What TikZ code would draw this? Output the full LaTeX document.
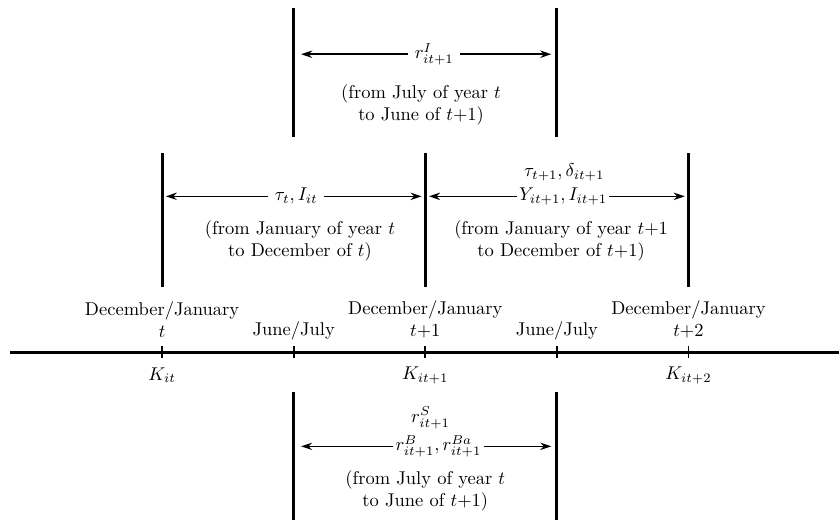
\documentclass[tikz,border=0pt]{standalone}
\usepackage{tikz}
\usetikzlibrary{arrows.meta, positioning, calc}
\usepackage{amsmath, amssymb}

\begin{document}
\begin{tikzpicture}[
  bar/.style={line width=1.6pt},
  span/.style={line width=0.8pt, -{Stealth[length=6pt, width=4pt]}},
  note/.style={align=center, inner sep=2pt},
  tight/.style={inner sep=1pt},
]
  \useasboundingbox (-3.08,-3.19) rectangle (12.86,6.69);

  % Time axis with ticks
  \coordinate (axL) at (-2.89,0);
  \coordinate (axR) at (12.86,0);
  \draw[line width=1.6pt] (axL) -- (axR);
  \foreach \x/\n in {0/d0, 2.5/j0, 5/d1, 7.5/j1, 10/d2} {
    \coordinate (\n) at (\x,0);
    \draw[line width=1pt] ([yshift=-0.11cm]\n) -- ([yshift=0.11cm]\n);
  }

  % Dates above the axis
  \node[note] (dec0) at (0,0.62) {December/January\\$t$};
  \node[note] (dec1) at (5,0.62) {December/January\\$t{+}1$};
  \node[note] (dec2) at (10,0.62) {December/January\\$t{+}2$};
  \node (jun0) at (2.5,0.40) {June/July};
  \node (jun1) at (7.5,0.40) {June/July};

  % Capital below the axis
  \node (k0) at (0,-0.44) {$K_{it}$};
  \node (k1) at (5,-0.44) {$K_{it+1}$};
  \node (k2) at (10,-0.44) {$K_{it+2}$};

  % Top span: July t to June t+1
  \coordinate (topL1) at (2.5,6.54);
  \coordinate (topL2) at (2.5,4.09);
  \coordinate (topR1) at (7.5,6.54);
  \coordinate (topR2) at (7.5,4.09);
  \draw[bar] (topL1) -- (topL2);
  \draw[bar] (topR1) -- (topR2);
  \node (rI) at (5.17,5.66) {$r^{I}_{it+1}$};
  \draw[span, shorten >=4pt] (rI) -- (rI -| topL1);
  \draw[span, shorten >=3pt] (rI) -- (rI -| topR1);
  \node[note] (topTxt) at (4.92,4.70) {(from July of year $t$\\to June of $t{+}1$)};

  % Middle spans: calendar years t and t+1
  \coordinate (midA1) at (0,3.78);
  \coordinate (midA2) at (0,1.24);
  \coordinate (midB1) at (5,3.78);
  \coordinate (midB2) at (5,1.24);
  \coordinate (midC1) at (10,3.78);
  \coordinate (midC2) at (10,1.24);
  \draw[bar] (midA1) -- (midA2);
  \draw[bar] (midB1) -- (midB2);
  \draw[bar] (midC1) -- (midC2);
  \node (tau0) at (2.55,2.96) {$\tau_t, I_{it}$};
  \draw[span, shorten >=2pt] (tau0) -- (tau0 -| midA1);
  \draw[span, shorten >=2pt] (tau0) -- (tau0 -| midB1);
  \node[note] (midTxtA) at (2.62,2.11) {(from January of year $t$\\to December of $t$)};
  \node[tight] (y1) at (7.62,2.96) {$Y_{it+1}, I_{it+1}$};
  \node[tight] (tau1) at (7.64,3.42) {$\tau_{t+1}, \delta_{it+1}$};
  \draw[span, shorten >=2pt] (y1) -- (y1 -| midB1);
  \draw[span, shorten >=2pt] (y1) -- (y1 -| midC1);
  \node[note] (midTxtB) at (7.58,2.11) {(from January of year $t{+}1$\\to December of $t{+}1$)};

  % Bottom span: July t to June t+1
  \coordinate (botL1) at (2.5,-0.76);
  \coordinate (botL2) at (2.5,-3.19);
  \coordinate (botR1) at (7.5,-0.76);
  \coordinate (botR2) at (7.5,-3.19);
  \draw[bar] (botL1) -- (botL2);
  \draw[bar] (botR1) -- (botR2);
  \node[tight] (rB) at (5.25,-1.79) {$r^{B}_{it+1}, r^{Ba}_{it+1}$};
  \node[tight] (rS) at (5.10,-1.25) {$r^{S}_{it+1}$};
  \draw[span, shorten >=4pt] (rB) -- (rB -| botL1);
  \draw[span, shorten >=3pt] (rB) -- (rB -| botR1);
  \node[note] (botTxt) at (5.0,-2.63) {(from July of year $t$\\to June of $t{+}1$)};
\end{tikzpicture}
\end{document}
